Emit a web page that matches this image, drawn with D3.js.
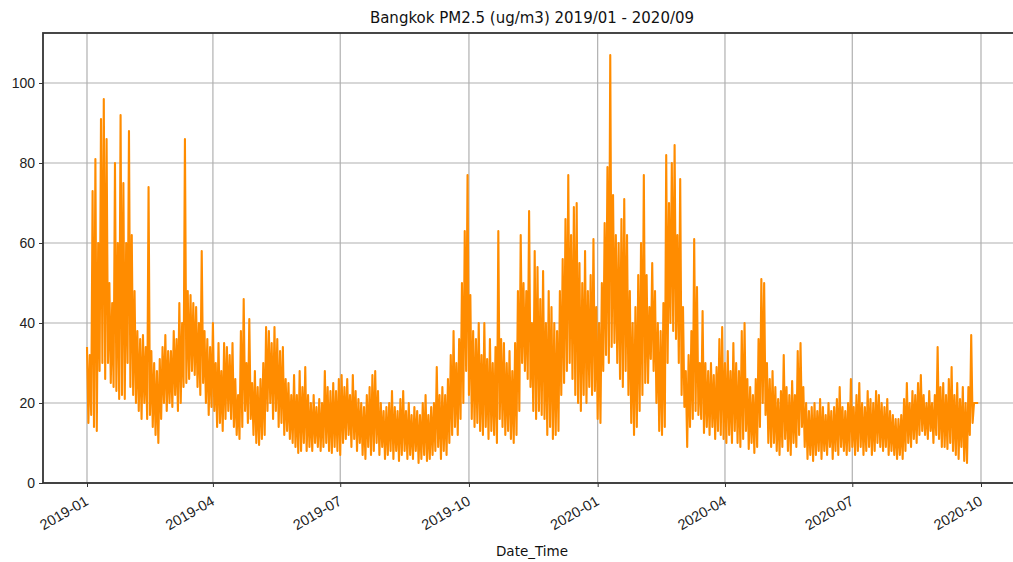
<!DOCTYPE html>
<html>
<head>
<meta charset="utf-8">
<script src="https://cdn.jsdelivr.net/npm/d3@7"></script>
<style>
  body { margin: 0; background: #fff; }
  svg { display: block; font-family: "DejaVu Sans", sans-serif; }
</style>
</head>
<body>
<svg id="chart" width="1013" height="562"></svg>
<script>
// 2-day bins starting 2019-01-01, high and low reading of each bin (ug/m3)
var hiVals = [
  // 2019-01
  34,32,73,81,60,91,96,86,50,45,80,60,92,75,60,88,
  // 2019-02
  62,48,38,36,37,34,74,33,30,28,31,34,37,33,
  // 2019-03
  33,38,36,45,40,86,48,47,45,44,40,58,38,36,34,
  // 2019-04
  40,30,35,28,35,34,32,35,26,22,38,46,30,41,25,
  // 2019-05
  28,24,26,30,39,38,35,39,36,33,34,26,25,22,27,22,
  // 2019-06
  28,24,29,22,20,22,19,21,20,28,24,23,25,23,26,
  // 2019-07
  27,24,26,22,27,23,21,20,19,22,24,27,28,23,20,18,
  // 2019-08
  19,20,23,19,18,21,23,18,20,17,19,18,17,20,22,
  // 2019-09
  17,19,20,29,22,24,22,26,32,38,30,36,50,63,77,
  // 2019-10
  47,38,36,40,32,40,31,36,30,34,63,36,35,30,33,28,
  // 2019-11
  35,48,62,50,48,68,40,58,54,46,53,40,48,44,40,
  // 2019-12
  38,48,56,66,77,62,69,70,55,50,58,48,52,61,44,40,
  // 2020-01
  50,65,79,107,72,62,60,66,71,62,48,40,44,52,60,77,
  // 2020-02
  52,44,55,48,40,38,45,82,70,80,84.5,62,76,44,
  // 2020-03
  28,32,38,61,49,30,43,30,28,30,27,29,36,39,30,
  // 2020-04
  33,28,35,30,28,38,40,26,24,22,26,36,51,50,30,
  // 2020-05
  26,28,24,21,23,32,24,22,25.5,22,33,35,24,20,18,19,
  // 2020-06
  20,18,21,19,17,20,18,19,21,24,19,18,20,26,19,
  // 2020-07
  22,25,20,19,23,21,20,23,22,20,19,21,18,17,16,16,
  // 2020-08
  17,21,25,20,23,22,25,27,22,20,23,20,22,34,24,
  // 2020-09
  25,22,26,29,22,25,21,24,20,24,37,20,20
];
var loVals = [
  // 2019-01
  15,17,14,13,28,30,26,30,25,24,23,21,22,21,30,24,
  // 2019-02
  22,20,18,16,20,16,17,14,12,10,16,20,18,20,
  // 2019-03
  19,22,18,20,24,25,26,28,27,24,22,25,20,17,19,
  // 2019-04
  18,14,15,13,16,18,16,14,12,11,14,18,15,16,12,
  // 2019-05
  10,9.5,11,12,18,20,16,18,14,15,12,13,11,10,9,7.5,
  // 2019-06
  8,10,8,9,8,10,9,8,9,10,8,7.5,9,8,7,
  // 2019-07
  10,11,12,9,11,8,10,7,6,9,7,8,10,7,9,6,
  // 2019-08
  7,8,6,8,5.5,7,8,6,7,6,8,5,6,7,5.5,
  // 2019-09
  6,7,8,9,6,8,7,10,12,14,12,16,20,28,22,
  // 2019-10
  16,14,15,13,12,14,11,13,12,10,16,14,12,13,11,10,
  // 2019-11
  12,18,30,28,26,24,18,16,18,17,16,12,14,11,12,
  // 2019-12
  13,22,25,28,30,26,22,20,18,22,20,24,22,23,16,15,
  // 2020-01
  28,32,30,34,35,30,26,24,28,22,15,12,14,18,22,25,
  // 2020-02
  25,31,28,20,13,12,14,30,40,38,36,30,22,19,
  // 2020-03
  9,14,16,18,17,16,12.5,14,12,14,11,13,12,11,10,
  // 2020-04
  12,10,13,10,9,11,13,8.5,10,7.5,9,14,20,17,10,
  // 2020-05
  9,10,8,7,9,11,8,7,10,9,12,14,9,6,7,5.5,
  // 2020-06
  7,8,6,8,7,9,6,8,7,9,8,7,8,9,7,
  // 2020-07
  8,9,7,8,9,7,8,10,9,8,9,7,8,7,6,7,
  // 2020-08
  6,8,10,9,11,10,12,13,12,11,13,10,12,11,9,
  // 2020-09
  9,8.5,10,8,7,6,9,5.5,5,12,15,20,20
];
var startDate = new Date(2019, 0, 1);
var yTicks = [0, 20, 40, 60, 80, 100];
var xTickDates = [
  new Date(2019, 0, 1), new Date(2019, 3, 1), new Date(2019, 6, 1), new Date(2019, 9, 1),
  new Date(2020, 0, 1), new Date(2020, 3, 1), new Date(2020, 6, 1), new Date(2020, 9, 1)
];
var chartTitle = "Bangkok PM2.5 (ug/m3) 2019/01 - 2020/09";
var xTitle = "Date_Time";

(function() {
  // build the hourly-like zigzag: high on first day of bin, low on second
  var series = [];
  hiVals.forEach(function(h, i) {
    series.push({date: d3.timeDay.offset(startDate, 2 * i), v: h});
    series.push({date: d3.timeDay.offset(startDate, 2 * i + 1), v: loVals[i]});
  });

  var m = {left: 43, right: 1021, top: 33, bottom: 483};
  var svg = d3.select("#chart");

  // anchor scale on two tick positions, then widen to the axes box
  var anchor = d3.scaleTime().domain([xTickDates[0], xTickDates[7]]).range([87, 981]);
  var x = d3.scaleTime().domain([anchor.invert(m.left), anchor.invert(m.right)]).range([m.left, m.right]);
  var y = d3.scaleLinear().domain([0, 112.5]).range([m.bottom, m.top]);

  svg.append("defs").append("clipPath").attr("id", "plotClip")
    .append("rect").attr("x", m.left).attr("y", m.top)
    .attr("width", m.right - m.left).attr("height", m.bottom - m.top);

  // grid
  var grid = svg.append("g").attr("class", "grid");
  grid.selectAll("line.gx").data(xTickDates).enter().append("line")
    .attr("class", "gx")
    .attr("x1", d => x(d)).attr("x2", d => x(d))
    .attr("y1", m.top).attr("y2", m.bottom)
    .attr("stroke", "#b0b0b0").attr("stroke-width", 1.2);
  grid.selectAll("line.gy").data(yTicks).enter().append("line")
    .attr("class", "gy")
    .attr("x1", m.left).attr("x2", m.right)
    .attr("y1", d => y(d)).attr("y2", d => y(d))
    .attr("stroke", "#b0b0b0").attr("stroke-width", 1.2);

  // series line
  var line = d3.line().x(d => x(d.date)).y(d => y(d.v));
  svg.append("path")
    .datum(series)
    .attr("clip-path", "url(#plotClip)")
    .attr("d", line)
    .attr("fill", "none")
    .attr("stroke", "#ff8c00")
    .attr("stroke-width", 2.1)
    .attr("stroke-linejoin", "round");

  // frame
  svg.append("rect")
    .attr("x", m.left).attr("y", m.top).attr("width", m.right - m.left).attr("height", m.bottom - m.top)
    .attr("fill", "none").attr("stroke", "#333").attr("stroke-width", 1.8);

  // axes
  var yAxis = svg.append("g").attr("transform", "translate(" + m.left + ",0)")
    .call(d3.axisLeft(y).tickValues(yTicks).tickSize(4).tickPadding(4).tickFormat(d3.format("d")));
  yAxis.select(".domain").remove();
  yAxis.selectAll("text").attr("font-size", 14).attr("fill", "#222");
  yAxis.selectAll("line").attr("stroke", "#333");

  var xAxis = svg.append("g").attr("transform", "translate(0," + m.bottom + ")")
    .call(d3.axisBottom(x).tickValues(xTickDates).tickSize(4).tickFormat(d3.timeFormat("%Y-%m")));
  xAxis.select(".domain").remove();
  xAxis.selectAll("line").attr("stroke", "#333");
  xAxis.selectAll("text")
    .attr("font-size", 14.5).attr("fill", "#222")
    .attr("text-anchor", "end")
    .attr("dy", null)
    .attr("y", 0)
    .attr("transform", "translate(2,21) rotate(-30)");

  // titles
  svg.append("text")
    .attr("x", (m.left + m.right) / 2).attr("y", 23)
    .attr("text-anchor", "middle").attr("font-size", 15).attr("fill", "#111")
    .text(chartTitle);
  svg.append("text")
    .attr("x", (m.left + m.right) / 2).attr("y", 556)
    .attr("text-anchor", "middle").attr("font-size", 13.5).attr("fill", "#111")
    .text(xTitle);
})();
</script>
</body>
</html>
